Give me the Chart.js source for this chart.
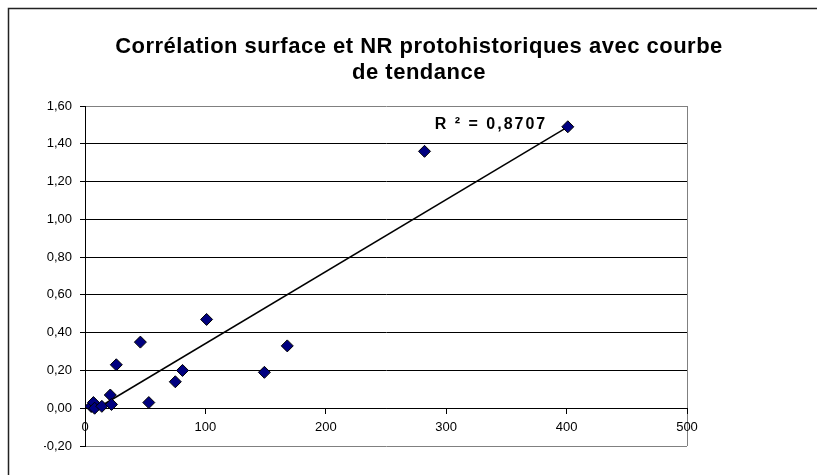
<!DOCTYPE html>
<html>
<head>
<meta charset="utf-8">
<script src="https://cdn.jsdelivr.net/npm/chart.js@4.4.0/dist/chart.umd.min.js"></script>
<style>
  html, body { margin: 0; padding: 0; background: #fff; }
  #wrap { position: relative; width: 817px; height: 475px; }
</style>
</head>
<body>
<div id="wrap"><canvas id="correlation_chart"></canvas></div>
<script>
"use strict";
/* data */
var surface = [5, 7, 8, 14, 21, 22, 26, 46, 53, 75, 81, 101, 149, 168, 282, 401];
var nr = [0.01, 0.03, 0.00, 0.01, 0.07, 0.02, 0.23, 0.35, 0.03, 0.14, 0.20, 0.47, 0.19, 0.33, 1.36, 1.49];

// trend line ends
var trendX = [5, 401];
var trendY = [-0.02, 1.49];

var xTicks = [0, 100, 200, 300, 400, 500];
var yTicks = [-0.2, 0, 0.2, 0.4, 0.6, 0.8, 1.0, 1.2, 1.4, 1.6];

var titleLines = ["Corrélation surface et NR protohistoriques avec courbe", "de tendance"];
var r2Text = "R ² = 0,8707";

var FONT = '"Liberation Sans", Arial, sans-serif';

var points = surface.map(function (s, i) {
  return { x: s, y: nr[i] };
});
var trend = trendX.map(function (t, i) {
  return { x: t, y: trendY[i] };
});

/* frame, title and R² text */
var decorPlugin = {
  id: "decor",
  afterDraw: function (chart) {
    var ctx = chart.ctx;
    ctx.save();
    ctx.strokeStyle = "#222";
    ctx.lineWidth = 1.5;
    ctx.beginPath();
    ctx.moveTo(8.5, 475);
    ctx.lineTo(8.5, 8.5);
    ctx.lineTo(817, 8.5);
    ctx.stroke();

    ctx.fillStyle = "#000";
    ctx.textAlign = "center";
    ctx.textBaseline = "alphabetic";
    ctx.font = "bold 22px " + FONT;
    ctx.letterSpacing = "0.5px";
    ctx.fillText(titleLines[0], 419, 53);
    ctx.fillText(titleLines[1], 419, 79);

    ctx.font = "bold 16px " + FONT;
    ctx.letterSpacing = "2px";
    ctx.fillText(r2Text, 491, 129);
    ctx.restore();
  },
};

new Chart("correlation_chart", {
  data: {
    datasets: [
      {
        type: "scatter",
        data: points,
        order: 0,
        pointStyle: "rectRot",
        pointRadius: 6,
        pointHoverRadius: 6,
        backgroundColor: "#000080",
        borderColor: "#000",
        borderWidth: 1,
      },
      {
        type: "line",
        data: trend,
        order: 1,
        borderColor: "#000",
        borderWidth: 1.5,
        pointRadius: 0,
        fill: false,
      },
    ],
  },
  options: {
    responsive: true,
    maintainAspectRatio: false,
    animation: false,
    layout: {
      padding: { top: 106, left: 44, right: 130, bottom: 29 },
    },
    plugins: {
      legend: { display: false },
      tooltip: { enabled: false },
      title: { display: false },
    },
    scales: {
      x: {
        type: "linear",
        min: 0,
        max: 500,
        position: { y: 0 },
        afterBuildTicks: function (scale) {
          scale.ticks = xTicks.map(function (v) { return { value: v }; });
        },
        ticks: {
          color: "#000",
          font: { family: FONT, size: 13 },
          padding: 6,
          maxRotation: 0,
        },
        grid: {
          color: function (c) {
            return c.tick && c.tick.value === 500 ? "#808080" : "rgba(0,0,0,0)";
          },
          tickColor: "#000",
          tickLength: 5,
          lineWidth: 1,
        },
        border: { color: "#000", width: 1 },
      },
      y: {
        type: "linear",
        min: -0.2,
        max: 1.6,
        afterBuildTicks: function (scale) {
          scale.ticks = yTicks.map(function (v) { return { value: v }; });
        },
        afterFit: function (scale) {
          scale.width = 41;
        },
        ticks: {
          color: "#000",
          font: { family: FONT, size: 13 },
          padding: 8,
          callback: function (value) {
            return Math.abs(value).toFixed(2) === "0.00" ? "0,00" : value.toFixed(2).replace(".", ",");
          },
        },
        grid: {
          color: function (c) {
            if (!c.tick) return "#000";
            var v = c.tick.value;
            return (v === 1.6 || v === -0.2) ? "#808080" : "#000";
          },
          tickColor: "#000",
          tickLength: 5,
          lineWidth: 1,
        },
        border: { color: "#000", width: 1 },
      },
    },
  },
  plugins: [decorPlugin],
});
</script>
</body>
</html>
